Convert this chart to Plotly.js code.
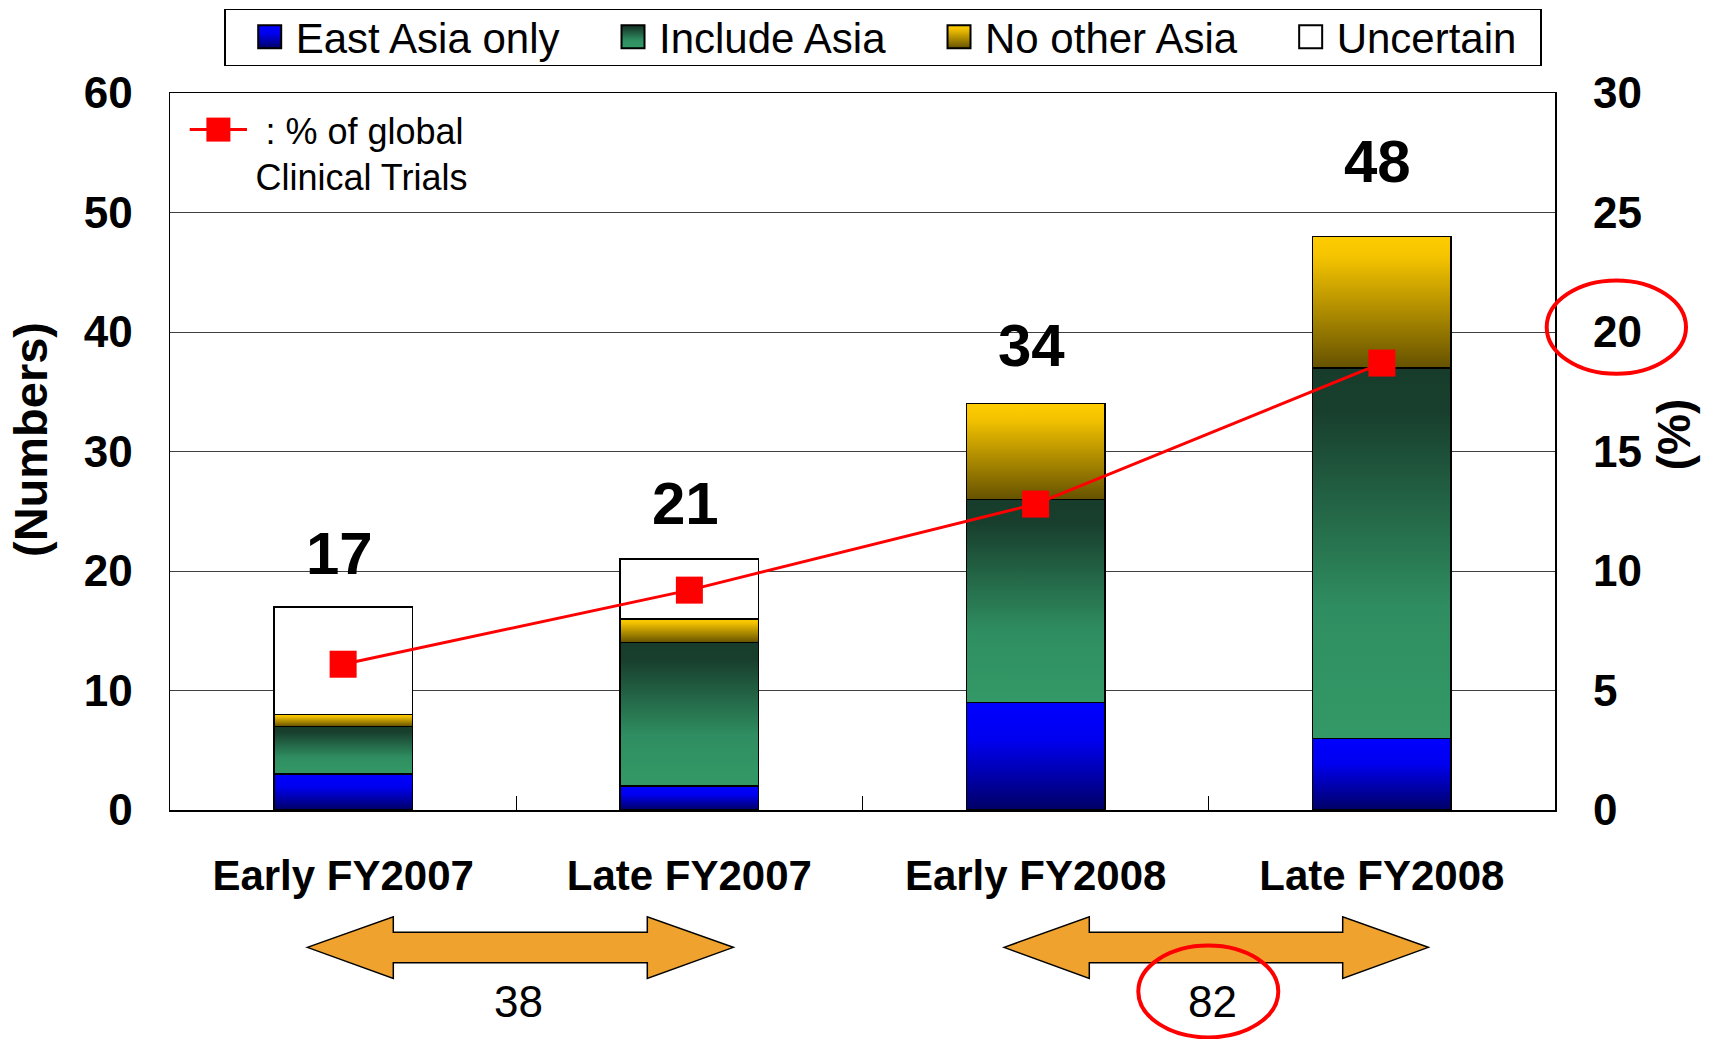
<!DOCTYPE html>
<html><head><meta charset="utf-8">
<script src="https://cdn.plot.ly/plotly-3.0.1.min.js"></script>
<style>html,body{margin:0;padding:0;background:#fff;} #chart{width:1711px;height:1039px;}</style>
</head><body><div id="chart"></div>
<script>
// ---------------- data ----------------
const categories = ['Early FY2007', 'Late FY2007', 'Early FY2008', 'Late FY2008'];
const eastAsiaOnly = [3, 2, 9, 6];
const includeAsia = [4, 12, 17, 31];
const noOtherAsia = [1, 2, 8, 11];
const uncertain = [9, 5, 0, 0];
const pctGlobal = [6.1, 9.2, 12.8, 18.7];
const seriesNames = ['East Asia only', 'Include Asia', 'No other Asia', 'Uncertain'];
const lineName = '\u00a0: % of global<br>Clinical Trials';
const yTickVals = [0, 10, 20, 30, 40, 50, 60];
const y2TickVals = [0, 5, 10, 15, 20, 25, 30];
const fiscalYearPairs = [[0, 1], [2, 3]];

// ---------------- derived ----------------
const series = [eastAsiaOnly, includeAsia, noOtherAsia, uncertain];
const totals = categories.map((c, i) => series.reduce((s, arr) => s + arr[i], 0));
const yearSums = fiscalYearPairs.map(p => p.reduce((s, i) => s + totals[i], 0));

// ---------------- styling ----------------
const FONT = 'Liberation Sans, Arial, sans-serif';
const midColors = ['#0000c0', '#2a7a52', '#c09a00', '#ffffff'];
const gradients = [
  {id: 'gEast', stops: [[0, '#0000ff'], [0.35, '#0000f0'], [1, '#000066']]},
  {id: 'gIncl', stops: [[0, '#173c2b'], [0.12, '#183f2d'], [0.65, '#2f8e61'], [1, '#339966']]},
  {id: 'gNoOther', stops: [[0, '#ffcc00'], [0.15, '#f5c400'], [1, '#665200']]},
  {id: 'gUnc', stops: [[0, '#ffffff'], [1, '#ffffff']]}
];

// plot-area pixel frame (used only for decoration placement)
const L = 170, R = 1555, T = 93.3, B = 810;
const px2x = p => (p - L) / (R - L);
const px2y = p => (B - p) / (B - T);

const data = series.map((vals, k) => ({
  type: 'bar', x: categories, y: vals, name: seriesNames[k],
  marker: {color: midColors[k], line: {color: '#000', width: 1.5}},
  legend: 'legend', hoverinfo: 'skip'
}));
data.push({
  type: 'scatter', mode: 'lines+markers', x: categories, y: pctGlobal, yaxis: 'y2',
  name: lineName, legend: 'legend2',
  line: {color: '#ff0000', width: 3},
  marker: {symbol: 'square', size: 27, color: '#ff0000'}
});

function arrowPath(xl, xb1, xb2, xr) {
  const yc = 947.3, ht = 916.7, hb = 978.3, st = 932.3, sb = 962.7;
  const pts = [[xl, yc], [xb1, ht], [xb1, st], [xb2, st], [xb2, ht], [xr, yc], [xb2, hb], [xb2, sb], [xb1, sb], [xb1, hb]];
  return 'M' + pts.map(p => px2x(p[0]).toFixed(5) + ',' + px2y(p[1]).toFixed(5)).join('L') + 'Z';
}

const labelYShift = [53, 56, 58, 75];
const annotations = categories.map((c, i) => ({
  x: c, y: totals[i], xref: 'x', yref: 'y', text: String(totals[i]),
  showarrow: false, yanchor: 'middle', xanchor: 'center', yshift: labelYShift[i], xshift: -4,
  font: {family: 'Liberation Sans Narrow, ' + FONT, size: 60, weight: 700, color: '#000'}
}));
const sumPos = [[518.3, 1001.7], [1212.7, 1001.7]];
yearSums.forEach((s, j) => annotations.push({
  x: px2x(sumPos[j][0]), y: px2y(sumPos[j][1]), xref: 'paper', yref: 'paper',
  text: String(s), showarrow: false, xanchor: 'center', yanchor: 'middle',
  font: {family: FONT, size: 44, color: '#000'}
}));

const shapes = [
  {type: 'path', xref: 'paper', yref: 'paper', path: arrowPath(307.3, 393.3, 647.3, 733.3),
   fillcolor: '#f0a22e', line: {color: '#000', width: 1.5}, layer: 'above'},
  {type: 'path', xref: 'paper', yref: 'paper', path: arrowPath(1004, 1089.3, 1342.7, 1428.3),
   fillcolor: '#f0a22e', line: {color: '#000', width: 1.5}, layer: 'above'},
  {type: 'circle', xref: 'paper', yref: 'paper', x0: px2x(1138.3), x1: px2x(1278.3), y0: px2y(945.5), y1: px2y(1037.3),
   line: {color: '#ff0000', width: 4}, layer: 'above'},
  {type: 'circle', xref: 'paper', yref: 'paper', x0: px2x(1546.7), x1: px2x(1686), y0: px2y(280.7), y1: px2y(374),
   line: {color: '#ff0000', width: 4}, layer: 'above'}
];

const layout = {
  width: 1711, height: 1039,
  margin: {l: L, r: 1711 - R, t: T, b: 1039 - B, pad: 0, autoexpand: false},
  paper_bgcolor: '#fff', plot_bgcolor: '#fff',
  font: {family: FONT, color: '#000'},
  barmode: 'stack', bargap: 0.6,
  showlegend: true,
  xaxis: {
    type: 'category', showline: true, linecolor: '#000', linewidth: 1.5, mirror: true,
    ticks: 'inside', tickson: 'boundaries', ticklen: 14, tickcolor: '#000', tickwidth: 1,
    tickfont: {family: FONT, size: 42, weight: 700, color: '#000'}, ticklabelstandoff: 28,
    showgrid: false, zeroline: false, fixedrange: true
  },
  yaxis: {
    range: [0, 60], tickvals: yTickVals, showline: true, linecolor: '#000', linewidth: 1.5, mirror: true,
    showgrid: true, gridcolor: '#404040', gridwidth: 1, zeroline: false, ticks: '',
    tickfont: {family: FONT, size: 44, weight: 700, color: '#000'}, ticklabelstandoff: 27,
    title: {text: '(Numbers)', font: {family: FONT, size: 47, weight: 700, color: '#000'}, standoff: 21}
  },
  yaxis2: {
    overlaying: 'y', side: 'right', range: [0, 30], tickvals: y2TickVals, showgrid: false, zeroline: false,
    showline: false, ticks: '',
    tickfont: {family: FONT, size: 44, weight: 700, color: '#000'}, ticklabelstandoff: 37,
    title: {text: '(%)', font: {family: FONT, size: 46, weight: 700, color: '#000'}, standoff: 16}
  },
  legend: {
    orientation: 'h', x: px2x(224), y: px2y(9), xanchor: 'left', yanchor: 'top',
    bordercolor: '#000', borderwidth: 1.5, bgcolor: '#fff',
    font: {family: FONT, size: 42, color: '#000'}, traceorder: 'normal'
  },
  legend2: {
    x: px2x(215.4), y: px2y(100), xanchor: 'left', yanchor: 'top', bgcolor: 'rgba(0,0,0,0)', borderwidth: 0,
    font: {family: FONT, size: 36, color: '#000'}, valign: 'top'
  },
  annotations: annotations,
  shapes: shapes
};

function decorate(gd) {
  const ns = 'http://www.w3.org/2000/svg';
  const svg = gd.querySelector('svg.main-svg');
  let defs = svg.querySelector('defs');
  if (!defs) { defs = document.createElementNS(ns, 'defs'); svg.insertBefore(defs, svg.firstChild); }
  gradients.forEach(g => {
    const lg = document.createElementNS(ns, 'linearGradient');
    lg.setAttribute('id', g.id); lg.setAttribute('x1', '0'); lg.setAttribute('y1', '0');
    lg.setAttribute('x2', '0'); lg.setAttribute('y2', '1');
    g.stops.forEach(s => {
      const st = document.createElementNS(ns, 'stop');
      st.setAttribute('offset', s[0]); st.setAttribute('stop-color', s[1]);
      lg.appendChild(st);
    });
    defs.appendChild(lg);
  });
  gd.querySelectorAll('.barlayer .trace').forEach((tr, k) => {
    tr.querySelectorAll('.point path').forEach(p => { p.style.fill = 'url(#' + gradients[k].id + ')'; });
  });

  // top legend: symbols, spacing, box size
  const leg = gd.querySelector('g.legend');
  if (leg) {
    const sb = leg.querySelector('.scrollbox');
    if (sb) sb.removeAttribute('clip-path');
    let origin = 31.7;
    let lastEnd = 0;
    leg.querySelectorAll('g.traces').forEach(tr => {
      const txt = tr.querySelector('.legendtext');
      const name = txt.textContent;
      const k = seriesNames.indexOf(name);
      tr.querySelectorAll('.legendpoints path').forEach(p => {
        p.setAttribute('d', 'M11.5,11.5H-11.5V-11.5H11.5Z');
        p.setAttribute('transform', 'translate(14,0)');
        if (k >= 0) p.style.fill = 'url(#' + gradients[k].id + ')';
        p.style.stroke = '#000'; p.style.strokeWidth = '2px';
      });
      const tw = txt.getComputedTextLength();
      tr.setAttribute('transform', 'translate(' + origin + ',28)');
      lastEnd = origin + 40 + tw;
      origin = lastEnd + 59.5;
    });
    const bg = leg.querySelector('rect.bg');
    if (bg) {
      bg.setAttribute('width', lastEnd + 24);
      bg.setAttribute('height', 56);
    }
  }
  const leg2 = gd.querySelector('g.legend2');
  if (leg2) {
    const sb2 = leg2.querySelector('.scrollbox');
    if (sb2) sb2.removeAttribute('clip-path');
    leg2.querySelectorAll('g.traces').forEach(tr => {
      tr.querySelectorAll('.legendlines path').forEach(p => { p.setAttribute('d', 'M-25.7,0h57.3'); });
      tr.querySelectorAll('.legendsymbols path').forEach(p => {
        p.setAttribute('d', 'M12,12H-12V-12H12Z');
        p.setAttribute('transform', 'translate(3,0)');
      });
    });
  }
  // axis title vertical nudges
  const yt = gd.querySelector('.g-ytitle');
  if (yt) yt.setAttribute('transform', 'translate(0,-12)');
  const y2t = gd.querySelector('.g-y2title');
  if (y2t) y2t.setAttribute('transform', 'translate(0,-17)');
}

const gd = document.getElementById('chart');
Plotly.newPlot(gd, data, layout, {staticPlot: true}).then(decorate);
</script>
</body></html>
